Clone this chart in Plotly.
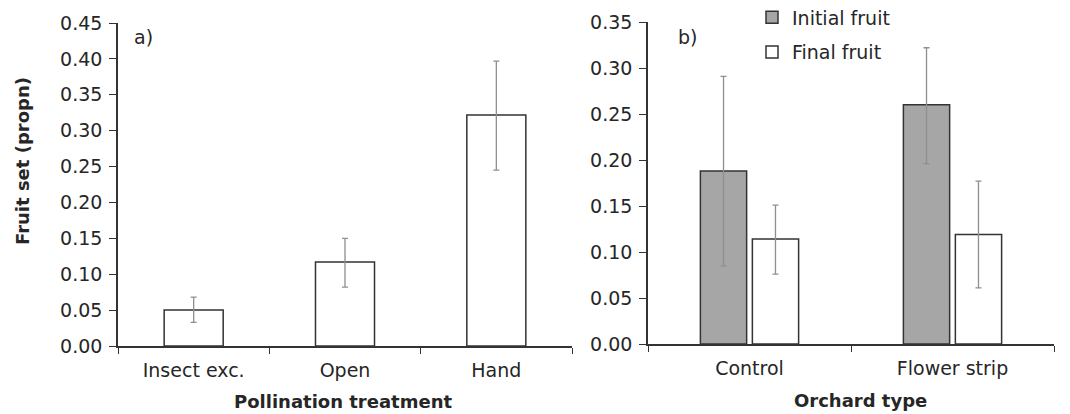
import plotly.graph_objects as go

# Panel a data
treatments = ["Insect exc.", "Open", "Hand"]
fruit_set = [0.050, 0.117, 0.322]
fruit_set_hi = [0.068, 0.150, 0.397]
fruit_set_lo = [0.033, 0.082, 0.245]

# Panel b data
orchards = ["Control", "Flower strip"]
initial = [0.188, 0.260]
initial_hi = [0.291, 0.322]
initial_lo = [0.085, 0.196]
final = [0.114, 0.119]
final_hi = [0.151, 0.177]
final_lo = [0.076, 0.061]

OFF = 8  # page body margin
W, H = 1070 - OFF, 414 - OFF
FONT = "DejaVu Sans"
TXT = "#262626"
AX = "#333333"
EB = "#8f8f8f"

def px_x(p):
    return (p - OFF) / W

def px_y(p):
    return (H - (p - OFF)) / H

def err(vals, hi, lo):
    return dict(type="data", symmetric=False,
                array=[h - v for h, v in zip(hi, vals)],
                arrayminus=[v - l for v, l in zip(vals, lo)],
                color=EB, thickness=1.3, width=3)

fig = go.Figure()

fig.add_trace(go.Bar(
    x=orchards, y=initial, name="Initial fruit", legendgroup="g1",
    marker=dict(color="#a6a6a6", line=dict(color=AX, width=1.5)),
    error_y=err(initial, initial_hi, initial_lo),
    xaxis="x2", yaxis="y2"))

fig.add_trace(go.Bar(
    x=orchards, y=final, name="Final fruit", legendgroup="g2",
    marker=dict(color="white", line=dict(color=AX, width=1.5)),
    error_y=err(final, final_hi, final_lo),
    xaxis="x2", yaxis="y2"))

fig.add_trace(go.Bar(
    x=treatments, y=fruit_set, width=0.39, legendgroup="g2",
    marker=dict(color="white", line=dict(color=AX, width=1.5)),
    error_y=err(fruit_set, fruit_set_hi, fruit_set_lo),
    xaxis="x", yaxis="y", showlegend=False))

tickfont = dict(family=FONT, size=19, color=TXT)

xcommon = dict(type="category", tickson="boundaries", ticks="outside", ticklen=6,
               tickcolor=AX, tickwidth=1.3, showline=True, linecolor=AX, linewidth=1.6,
               showgrid=False, zeroline=False, tickfont=tickfont, fixedrange=True,
               ticklabelstandoff=6)
ycommon = dict(ticks="outside", ticklen=7, tickcolor=AX, tickwidth=1.3,
               showline=True, linecolor=AX, linewidth=1.6, showgrid=False,
               zeroline=False, tickfont=tickfont, tickformat=".2f", dtick=0.05,
               ticklabelstandoff=3)

fig.update_layout(
    width=W, height=H,
    margin=dict(l=0, r=0, t=0, b=0, autoexpand=False),
    paper_bgcolor="white", plot_bgcolor="white",
    barmode="group", bargap=0.488, bargroupgap=0.11,
    xaxis=dict(domain=[px_x(118), px_x(572)], anchor="y", **xcommon),
    yaxis=dict(domain=[px_y(346), px_y(23)], range=[0, 0.45], anchor="x", **ycommon),
    xaxis2=dict(domain=[px_x(648), px_x(1054)], anchor="y2", **xcommon),
    yaxis2=dict(domain=[px_y(344), px_y(22)], range=[0, 0.35], anchor="x2", **ycommon),
    legend=dict(x=px_x(752), y=px_y(35), xanchor="left", yanchor="middle",
                font=dict(family=FONT, size=19, color=TXT),
                traceorder="grouped", tracegroupgap=7,
                bgcolor="rgba(0,0,0,0)"),
    showlegend=True,
)

annos = [
    dict(text="a)", x=px_x(132), y=px_y(37), xanchor="left", yanchor="middle", size=19),
    dict(text="b)", x=px_x(676), y=px_y(37), xanchor="left", yanchor="middle", size=19),
    dict(text="<b>Pollination treatment</b>", x=px_x(343), y=px_y(401), xanchor="center", yanchor="middle", size=18),
    dict(text="<b>Orchard type</b>", x=px_x(860), y=px_y(400), xanchor="center", yanchor="middle", size=18),
]
for a in annos:
    size = a.pop("size")
    fig.add_annotation(xref="paper", yref="paper", showarrow=False,
                       font=dict(family=FONT, size=size, color=TXT), **a)

fig.add_annotation(xref="paper", yref="paper", showarrow=False, textangle=-90,
                   text="<b>Fruit set (propn)</b>", x=px_x(22), y=px_y(161),
                   xanchor="center", yanchor="middle",
                   font=dict(family=FONT, size=18, color=TXT))

fig.write_html("out.html")
